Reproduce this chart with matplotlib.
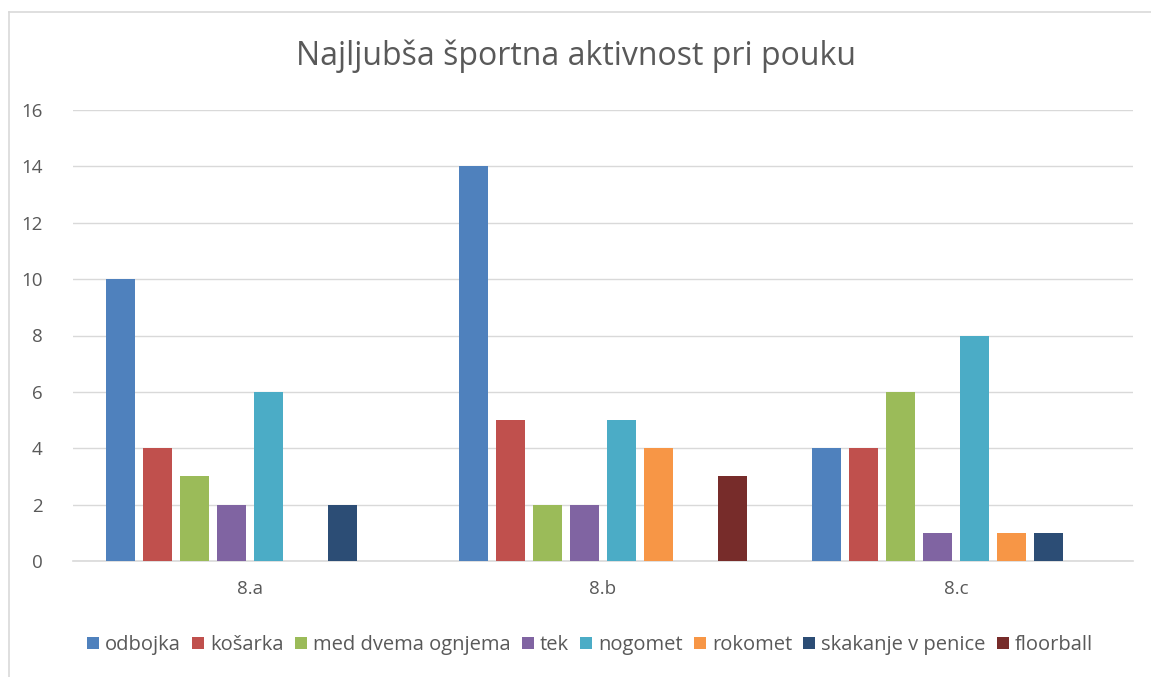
import matplotlib
matplotlib.use("Agg")
import matplotlib.pyplot as plt
import numpy as np
from matplotlib.lines import Line2D
from matplotlib.patches import Patch

categories = ["8.a", "8.b", "8.c"]
series = ["odbojka", "košarka", "med dvema ognjema", "tek", "nogomet",
          "rokomet", "skakanje v penice", "floorball"]
odbojka = [10, 14, 4]
kosarka = [4, 5, 4]
med_dvema_ognjema = [3, 2, 6]
tek = [2, 2, 1]
nogomet = [6, 5, 8]
rokomet = [0, 4, 1]
skakanje = [2, 0, 1]
floorball = [0, 3, 0]
values = [odbojka, kosarka, med_dvema_ognjema, tek, nogomet, rokomet, skakanje, floorball]
colors = ["#4F81BD", "#C0504D", "#9BBB59", "#8064A2", "#4BACC6",
          "#F79646", "#2C4D75", "#772C2A"]

plt.rcParams['font.family'] = ['Open Sans', 'DejaVu Sans']
txt = "#595959"

fig = plt.figure(figsize=(11.51, 6.77), dpi=100)
ax = fig.add_axes([73/1151, 1-561/677, (1133-73)/1151, (561-110)/677])

x = np.arange(len(categories))
step = 0.1047
width = 0.082
for i, (s, v, c) in enumerate(zip(series, values, colors)):
    ax.bar(x + (i - 3.5) * step, v, width=width, color=c, label=s, zorder=3)

ax.set_xlim(-0.5, 2.5)
ax.set_ylim(0, 16)
ax.set_yticks(range(0, 17, 2))
ax.set_xticks(x)
ax.set_xticklabels(categories)
ax.tick_params(axis='both', length=0, labelsize=13.5, colors=txt)
ax.tick_params(axis='y', pad=22)
ax.tick_params(axis='x', pad=14)
ax.grid(axis='y', color="#D9D9D9", linewidth=1, zorder=0)
for sp in ["top", "right", "left"]:
    ax.spines[sp].set_visible(False)
ax.spines["bottom"].set_color("#D9D9D9")
ax.spines["bottom"].set_linewidth(1.2)

fig.text(0.5, 1-56/677, "Najljubša športna aktivnost pri pouku",
         ha='center', va='center', fontsize=23, color=txt)

handles = [Patch(facecolor=c, label=s) for s, c in zip(series, colors)]
fig.legend(handles=handles, loc='center', bbox_to_anchor=(590/1151, 1-645/677),
           ncol=8, frameon=False, fontsize=14.5, handlelength=0.6, handleheight=0.6,
           handletextpad=0.3, columnspacing=0.55, labelcolor=txt)

# chart border (left and top visible)
fig.add_artist(Line2D([9/1151, 9/1151], [0, 1-12/677], color="#D9D9D9", linewidth=1.2))
fig.add_artist(Line2D([9/1151, 1], [1-12/677, 1-12/677], color="#D9D9D9", linewidth=1.2))

fig.savefig("out.png", dpi=100, facecolor="white")
